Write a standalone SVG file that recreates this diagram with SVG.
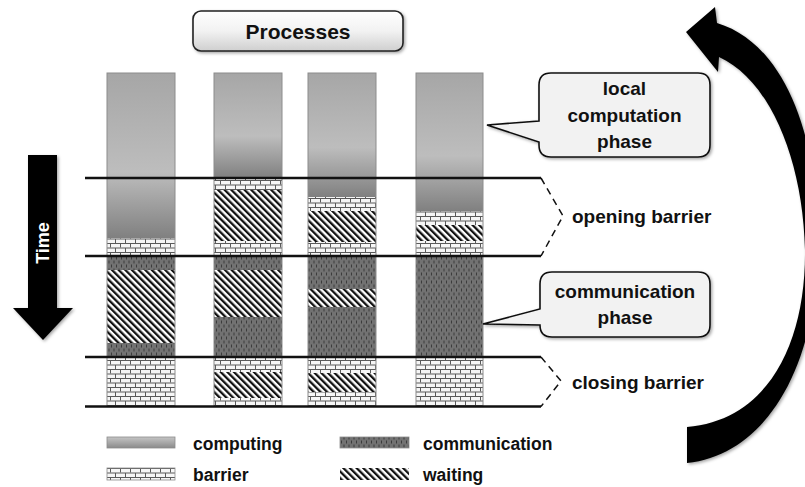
<svg xmlns="http://www.w3.org/2000/svg" width="805" height="487" viewBox="0 0 805 487">
<defs>
  <linearGradient id="gComp" x1="0" y1="0" x2="0" y2="1">
    <stop offset="0" stop-color="#a6a6a6"/>
    <stop offset="0.6" stop-color="#bdbdbd"/>
    <stop offset="1" stop-color="#808080"/>
  </linearGradient>
  <linearGradient id="gLegComp" x1="0" y1="0" x2="0" y2="1">
    <stop offset="0" stop-color="#c4c4c4"/>
    <stop offset="0.5" stop-color="#a8a8a8"/>
    <stop offset="1" stop-color="#8a8a8a"/>
  </linearGradient>
  <linearGradient id="gTitle" x1="0" y1="0" x2="0" y2="1">
    <stop offset="0" stop-color="#ffffff"/>
    <stop offset="0.5" stop-color="#f2f2f2"/>
    <stop offset="1" stop-color="#cfcfcf"/>
  </linearGradient>
  <pattern id="pBrick" width="10" height="9" patternUnits="userSpaceOnUse">
    <rect width="10" height="9" fill="#f6f6f6"/>
    <path d="M0,0.5H10M0,5H10M0.5,0V4.5M5.5,5V9" stroke="#5a5a5a" stroke-width="1" fill="none"/>
  </pattern>
  <pattern id="pWait" width="4.7" height="10" patternUnits="userSpaceOnUse" patternTransform="rotate(-45)">
    <rect width="4.7" height="10" fill="#ffffff"/>
    <rect width="2.3" height="10" fill="#111111"/>
  </pattern>
  <pattern id="pComm" width="5" height="8" patternUnits="userSpaceOnUse">
    <rect width="5" height="8" fill="#727272"/>
    <rect x="1" y="0.5" width="1" height="3" fill="#3c3c3c"/>
    <rect x="3.5" y="4.5" width="1" height="3" fill="#3c3c3c"/>
  </pattern>
  <filter id="shadow" x="-10%" y="-10%" width="130%" height="130%">
    <feDropShadow dx="1.5" dy="1.5" stdDeviation="1.5" flood-color="#000" flood-opacity="0.35"/>
  </filter>
</defs>
<style>
  .t { font-family: "Liberation Sans", Arial, sans-serif; font-weight: bold; fill: #111; }
  .comp { fill: url(#gComp); }
  .brick { fill: url(#pBrick); }
  .wait { fill: url(#pWait); }
  .comm { fill: url(#pComm); }
  .colframe { fill: none; stroke: #8c8c8c; stroke-width: 1; }
  .callout { fill: #f2f2f2; stroke: #111; stroke-width: 1.6; }
  .hline { stroke: #111; stroke-width: 2.6; fill: none; }
  .dash { stroke: #111; stroke-width: 1.5; fill: none; stroke-dasharray: 7 5; }
</style>
<rect width="805" height="487" fill="#ffffff"/>

<g id="processes-title">
  <rect x="193" y="11" width="210" height="40" rx="8" fill="url(#gTitle)" stroke="#222" stroke-width="1.6" filter="url(#shadow)"/>
  <text class="t" x="298" y="38.5" font-size="21" text-anchor="middle">Processes</text>
</g>

<g id="process-1">
  <rect class="comp" x="107" y="73" width="68" height="165"/>
  <rect class="brick" x="107" y="238" width="68" height="18"/>
  <rect class="comm" x="107" y="256" width="68" height="14"/>
  <rect class="wait" x="107" y="270" width="68" height="73"/>
  <rect class="comm" x="107" y="343" width="68" height="14"/>
  <rect class="brick" x="107" y="357" width="68" height="49"/>
  <rect class="colframe" x="107" y="73" width="68" height="333"/>
</g>
<g id="process-2">
  <rect class="comp" x="214" y="73" width="68" height="105"/>
  <rect class="brick" x="214" y="178" width="68" height="12"/>
  <rect class="wait" x="214" y="190" width="68" height="51"/>
  <rect class="brick" x="214" y="241" width="68" height="15"/>
  <rect class="comm" x="214" y="256" width="68" height="14"/>
  <rect class="wait" x="214" y="270" width="68" height="47"/>
  <rect class="comm" x="214" y="317" width="68" height="40"/>
  <rect class="brick" x="214" y="357" width="68" height="15"/>
  <rect class="wait" x="214" y="372" width="68" height="26"/>
  <rect class="brick" x="214" y="398" width="68" height="8"/>
  <rect class="colframe" x="214" y="73" width="68" height="333"/>
</g>
<g id="process-3">
  <rect class="comp" x="308" y="73" width="68" height="124"/>
  <rect class="brick" x="308" y="197" width="68" height="14"/>
  <rect class="wait" x="308" y="211" width="68" height="31"/>
  <rect class="brick" x="308" y="242" width="68" height="14"/>
  <rect class="comm" x="308" y="256" width="68" height="33"/>
  <rect class="wait" x="308" y="289" width="68" height="18"/>
  <rect class="comm" x="308" y="307" width="68" height="50"/>
  <rect class="brick" x="308" y="357" width="68" height="16"/>
  <rect class="wait" x="308" y="373" width="68" height="19"/>
  <rect class="brick" x="308" y="392" width="68" height="14"/>
  <rect class="colframe" x="308" y="73" width="68" height="333"/>
</g>
<g id="process-4">
  <rect class="comp" x="416" y="73" width="67" height="138"/>
  <rect class="brick" x="416" y="211" width="67" height="14"/>
  <rect class="wait" x="416" y="225" width="67" height="16"/>
  <rect class="brick" x="416" y="241" width="67" height="15"/>
  <rect class="comm" x="416" y="256" width="67" height="101"/>
  <rect class="brick" x="416" y="357" width="67" height="49"/>
  <rect class="colframe" x="416" y="73" width="67" height="333"/>
</g>

<g id="connectors">
  <path class="hline" d="M85,178H541M85,256H541M85,357H541M85,406.5H541"/>
  <path class="dash" d="M541,178L563,216L541,256"/>
  <path class="dash" d="M541,357L561,381L541,406.5"/>
</g>

<g id="opening-barrier-label">
  <text class="t" x="572" y="223" font-size="19">opening barrier</text>
</g>
<g id="closing-barrier-label">
  <text class="t" x="572" y="389" font-size="19">closing barrier</text>
</g>

<g id="local-computation-callout">
  <path class="callout" filter="url(#shadow)" d="M551,73H698Q710,73 710,85V145Q710,157 698,157H551Q539,157 539,145V142L487,125L539,121V85Q539,73 551,73Z"/>
  <text class="t" x="624.5" y="95" font-size="19" text-anchor="middle">local</text>
  <text class="t" x="624.5" y="121.5" font-size="19" text-anchor="middle">computation</text>
  <text class="t" x="624.5" y="148" font-size="19" text-anchor="middle">phase</text>
</g>

<g id="communication-callout">
  <path class="callout" filter="url(#shadow)" d="M552,272H698Q710,272 710,284V325Q710,337 698,337H552Q540,337 540,325L483,324L540,309V284Q540,272 552,272Z"/>
  <text class="t" x="625" y="297.5" font-size="19" text-anchor="middle">communication</text>
  <text class="t" x="625" y="324" font-size="19" text-anchor="middle">phase</text>
</g>

<g id="time-arrow">
  <polygon points="28,155 57,155 57,308 73,308 43,340 13,308 28,308" fill="#000" filter="url(#shadow)"/>
  <text x="43" y="243" font-family="Liberation Sans, Arial, sans-serif" font-weight="bold" font-size="18" fill="#fff" text-anchor="middle" dominant-baseline="central" transform="rotate(-90 43 243)">Time</text>
</g>

<g id="cycle-arrow">
  <path fill="#000" filter="url(#shadow)" d="M687,463C760,455 812,380 818,260C822,150 790,45 717,23L715,7L686,32L718,72L719,57C770,80 803,160 805,250C806,340 770,420 687,427Z"/>
</g>

<g id="legend">
  <rect x="107" y="437" width="68" height="11" fill="url(#gLegComp)" stroke="#8c8c8c" stroke-width="0.8"/>
  <text class="t" x="193" y="450" font-size="17.5">computing</text>
  <rect class="brick" x="107" y="468" width="68" height="12" stroke="#8c8c8c" stroke-width="0.8"/>
  <text class="t" x="193" y="481" font-size="17.5">barrier</text>
  <rect class="comm" x="340" y="437" width="69" height="11" stroke="#8c8c8c" stroke-width="0.8"/>
  <text class="t" x="423" y="450" font-size="17.5">communication</text>
  <rect class="wait" x="340" y="468" width="69" height="12"/>
  <text class="t" x="423" y="481" font-size="17.5">waiting</text>
</g>
</svg>
